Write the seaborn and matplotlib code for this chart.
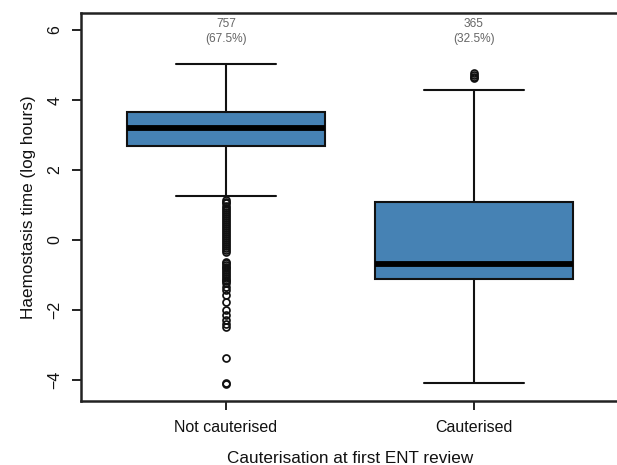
import matplotlib
matplotlib.use("Agg")
import matplotlib.pyplot as plt
import seaborn as sns

# Group labels and counts
groups = ["Not cauterised", "Cauterised"]
counts = [757, 365]
shares = [67.5, 32.5]

# Box summary (log hours)
q1 = [2.69, -1.10]
median = [3.19, -0.69]
q3 = [3.66, 1.10]
whisker_low = [1.26, -4.08]
whisker_high = [5.02, 4.28]

# Points beyond the whiskers
outliers_not_cauterised = [
    1.15, 1.10, 1.05, 0.98, 0.92, 0.86, 0.80, 0.74, 0.69, 0.64, 0.58, 0.51,
    0.45, 0.40, 0.34, 0.29, 0.22, 0.18, 0.12, 0.07, 0.00, -0.05, -0.11,
    -0.18, -0.22, -0.29, -0.33,
    -0.62, -0.67, -0.71, -0.76, -0.81, -0.86, -0.92, -0.97, -1.02, -1.08,
    -1.13, -1.18, -1.24, -1.33, -1.43, -1.58, -1.77, -2.00, -2.14, -2.29,
    -2.40, -2.48, -3.38, -4.08, -4.11,
]
outliers_cauterised = [4.62, 4.67, 4.72, 4.77]

y_ticks = [-4, -2, 0, 2, 4, 6]

sns.set_theme(style="ticks")
plt.rcParams["font.family"] = ["Liberation Sans", "DejaVu Sans"]

fig = plt.figure(figsize=(6.17, 4.65), dpi=100)
ax = fig.add_axes([81 / 617, 1 - 401 / 465, (619 - 81) / 617, (401 - 13) / 465])

stats = []
for i, name in enumerate(groups):
    stats.append({
        "label": name,
        "q1": q1[i],
        "med": median[i],
        "q3": q3[i],
        "whislo": whisker_low[i],
        "whishi": whisker_high[i],
        "fliers": [outliers_not_cauterised, outliers_cauterised][i],
    })

ink = "#111111"
ax.bxp(
    stats,
    positions=[1, 2],
    widths=0.8,
    capwidths=0.4,
    patch_artist=True,
    showfliers=True,
    boxprops=dict(facecolor="#4682B4", edgecolor=ink, linewidth=1.5),
    medianprops=dict(color="black", linewidth=4.2, solid_capstyle="butt"),
    whiskerprops=dict(color=ink, linewidth=1.5),
    capprops=dict(color=ink, linewidth=1.5),
    flierprops=dict(marker="o", markersize=5, markerfacecolor="none",
                    markeredgecolor=ink, markeredgewidth=1.25),
)

for i, (n, pct) in enumerate(zip(counts, shares)):
    ax.text(i + 1, 5.96, f"{n}\n({pct}%)", ha="center", va="center",
            fontsize=8.6, color="#666666", linespacing=1.35)

ax.set_xlim(0.4153, 2.585)
ax.set_ylim(-4.6, 6.486)
ax.set_yticks(y_ticks)
ax.set_xticks([1, 2])
ax.set_xticklabels(groups)

for side in ["left", "top", "bottom"]:
    ax.spines[side].set_visible(True)
    ax.spines[side].set_linewidth(1.8)
    ax.spines[side].set_color("#222222")
ax.spines["right"].set_visible(False)

ax.tick_params(axis="both", direction="out", length=6.5, width=1.4,
               color="#222222", labelsize=11.5, labelcolor="#111111")
ax.tick_params(axis="y", pad=7, labelrotation=90)
ax.tick_params(axis="x", pad=7)
for lbl in ax.get_yticklabels():
    lbl.set_va("center")

ax.set_xlabel("Cauterisation at first ENT review", fontsize=12.3,
              color="#111111", labelpad=12)
ax.set_ylabel("Haemostasis time (log hours)", fontsize=12.3,
              color="#111111", labelpad=8)
ax.grid(False)

fig.savefig("out.png", dpi=100)
